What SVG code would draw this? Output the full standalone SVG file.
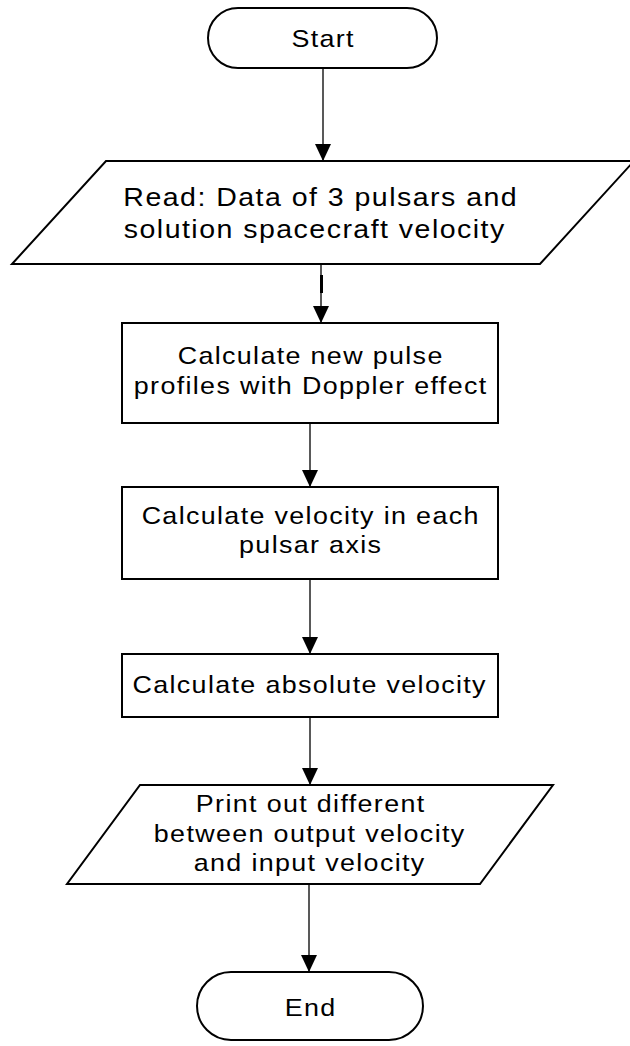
<svg xmlns="http://www.w3.org/2000/svg" width="630" height="1046" viewBox="0 0 630 1046">
<defs>
<style>
.shape{fill:#fff;stroke:#000;stroke-width:2}
.conn{stroke:#222;stroke-width:1.5;fill:none}
.t{font-family:"Liberation Sans",Arial,sans-serif;font-size:24px;letter-spacing:1.2px;fill:#000;text-anchor:middle}
.tb{font-size:25.5px;letter-spacing:1.3px}
</style>
<marker id="arr" markerUnits="userSpaceOnUse" markerWidth="17" markerHeight="16" refX="17" refY="8" orient="auto" viewBox="0 0 17 16">
<path d="M0,0 L17,8 L0,16 z" fill="#000"/>
</marker>
</defs>
<rect width="630" height="1046" fill="#fff"/>
<g id="connectors">
<line class="conn" x1="323" y1="68" x2="323" y2="161" marker-end="url(#arr)"/>
<line class="conn" x1="321" y1="264" x2="321" y2="323" marker-end="url(#arr)"/>
<rect x="320" y="275" width="3" height="18" fill="#000"/>
<line class="conn" x1="310" y1="423" x2="310" y2="487" marker-end="url(#arr)"/>
<line class="conn" x1="310" y1="579" x2="310" y2="654" marker-end="url(#arr)"/>
<line class="conn" x1="310" y1="717" x2="310" y2="785" marker-end="url(#arr)"/>
<line class="conn" x1="309" y1="884" x2="309" y2="972" marker-end="url(#arr)"/>
</g>
<g id="start">
<rect class="shape" x="208" y="8" width="229" height="60" rx="30" ry="30"/>
<g transform="translate(322.5,46.5) scale(1.12,1)"><text class="t" x="0.6" y="0">Start</text></g>
</g>
<g id="read">
<polygon class="shape" points="106,161 634,161 540,264 12,264"/>
<g transform="translate(320,205.5) scale(1.12,1)"><text class="t tb" x="0.65" y="0">Read: Data of 3 pulsars and</text></g>
<g transform="translate(314,237.5) scale(1.12,1)"><text class="t tb" x="0.65" y="0">solution spacecraft velocity</text></g>
</g>
<g id="calc-pulse">
<rect class="shape" x="122" y="323" width="376" height="100"/>
<g transform="translate(310,364) scale(1.12,1)"><text class="t" x="0.6" y="0">Calculate new pulse</text></g>
<g transform="translate(310,394) scale(1.12,1)"><text class="t" x="0.6" y="0">profiles with Doppler effect</text></g>
</g>
<g id="calc-axis">
<rect class="shape" x="122" y="487" width="376" height="92"/>
<g transform="translate(310,524) scale(1.12,1)"><text class="t" x="0.6" y="0">Calculate velocity in each</text></g>
<g transform="translate(310,553) scale(1.12,1)"><text class="t" x="0.6" y="0">pulsar axis</text></g>
</g>
<g id="calc-abs">
<rect class="shape" x="122" y="654" width="376" height="63"/>
<g transform="translate(309,693) scale(1.12,1)"><text class="t" x="0.6" y="0">Calculate absolute velocity</text></g>
</g>
<g id="print">
<polygon class="shape" points="140,785 553,785 480,884 67,884"/>
<g transform="translate(310,812) scale(1.12,1)"><text class="t" x="0.6" y="0">Print out different</text></g>
<g transform="translate(309,842) scale(1.12,1)"><text class="t" x="0.6" y="0">between output velocity</text></g>
<g transform="translate(309,871) scale(1.12,1)"><text class="t" x="0.6" y="0">and input velocity</text></g>
</g>
<g id="end">
<rect class="shape" x="197" y="972" width="226" height="68" rx="34" ry="34"/>
<g transform="translate(310,1016) scale(1.12,1)"><text class="t" x="0.6" y="0">End</text></g>
</g>
</svg>
